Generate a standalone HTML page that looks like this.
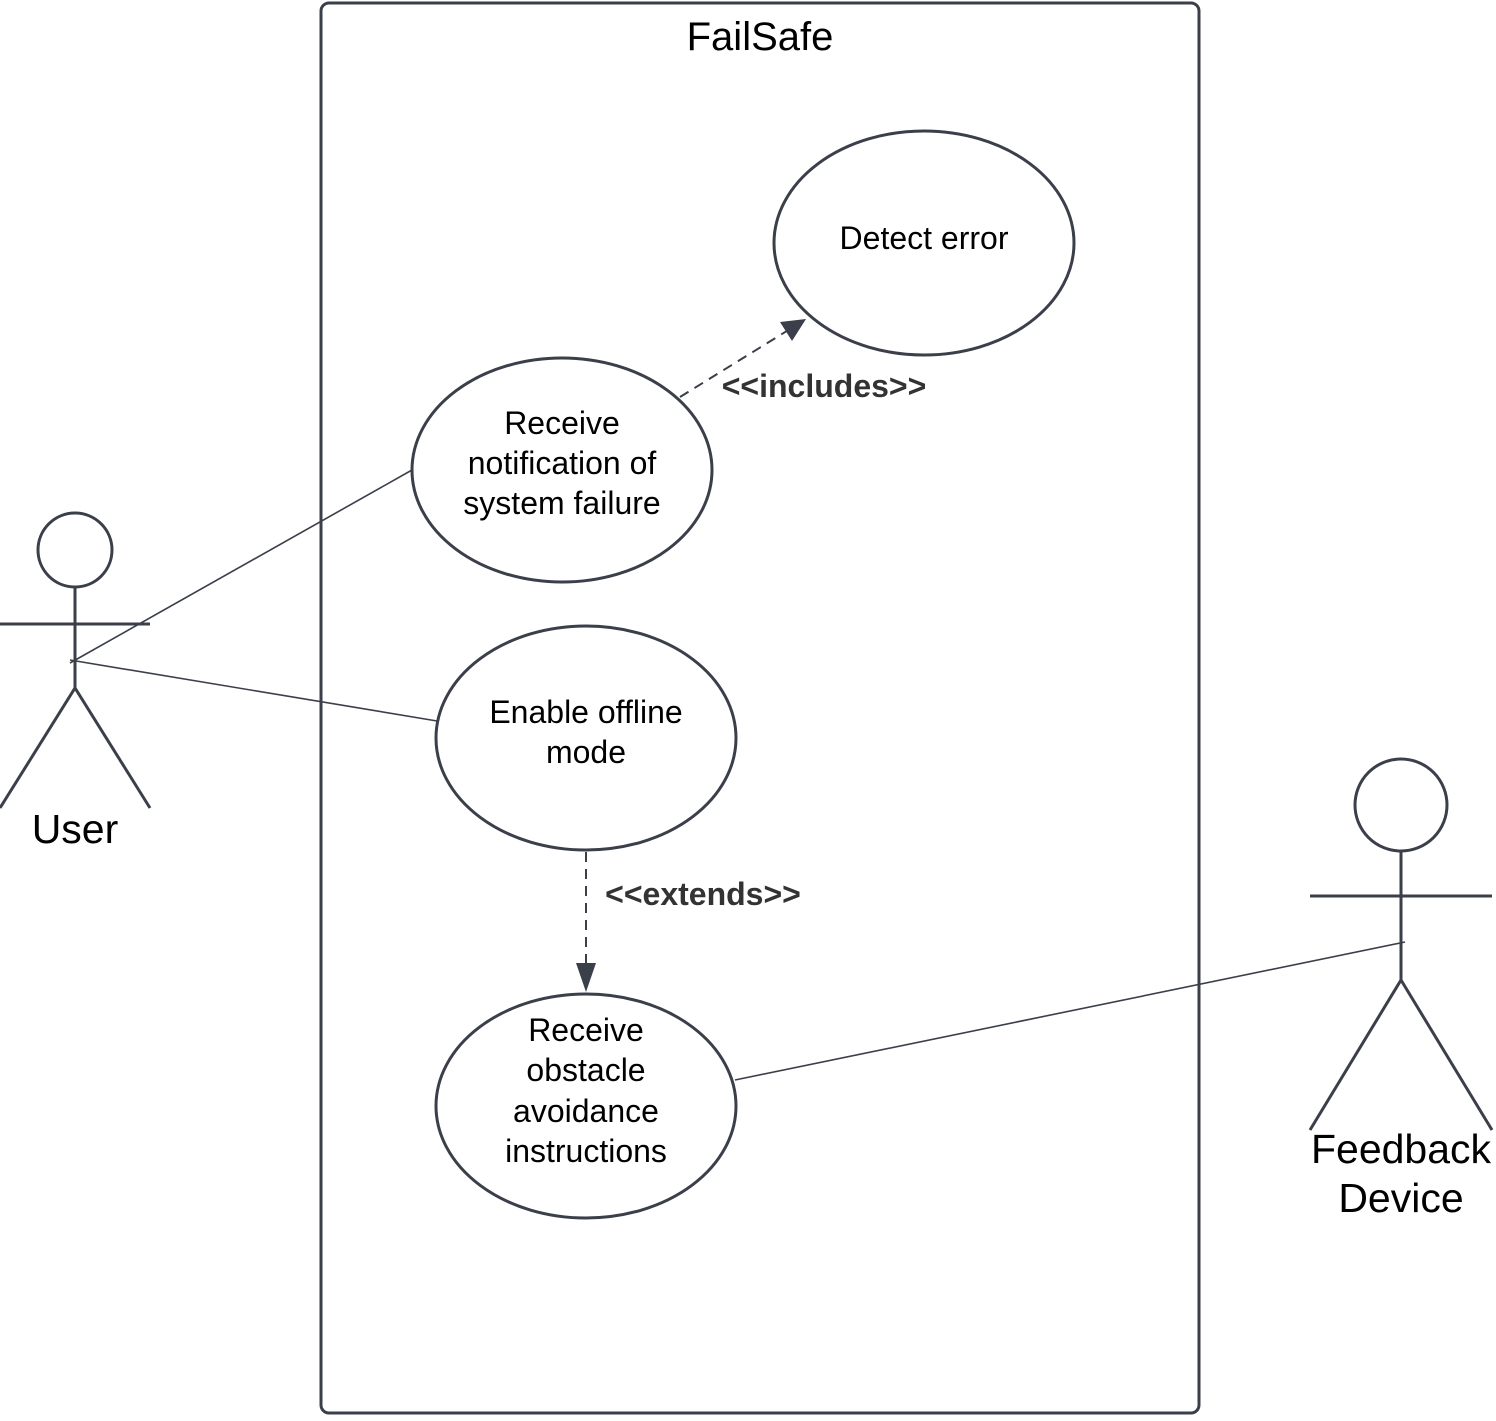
<!DOCTYPE html>
<html><head><style>html,body{margin:0;padding:0;background:#fff}</style></head><body>
<svg width="1496" height="1416" viewBox="0 0 1496 1416" xmlns="http://www.w3.org/2000/svg" font-family="Liberation Sans, Arial, sans-serif">
<rect x="321" y="3" width="878" height="1410" rx="8" fill="none" stroke="#3a3f4a" stroke-width="3"/>
<text x="760" y="50" font-size="40" text-anchor="middle" fill="#000">FailSafe</text>
<g fill="none" stroke="#3a3f4a" stroke-width="3">
<ellipse cx="924" cy="243" rx="150" ry="112"/>
<ellipse cx="562" cy="470" rx="150" ry="112"/>
<ellipse cx="586" cy="738" rx="150" ry="112"/>
<ellipse cx="586" cy="1106" rx="150" ry="112"/>
<circle cx="75" cy="550" r="37"/>
<line x1="75" y1="587" x2="75" y2="688"/>
<line x1="0" y1="624" x2="150" y2="624"/>
<polyline points="0,808 75,688 150,808"/>
<circle cx="1401" cy="805" r="46"/>
<line x1="1401" y1="851" x2="1401" y2="980"/>
<line x1="1310" y1="896" x2="1492" y2="896"/>
<polyline points="1310,1130 1401,980 1492,1130"/>
</g>
<g stroke="#3a3f4a" stroke-width="1.6" fill="none">
<line x1="70" y1="663" x2="412" y2="470"/>
<line x1="70" y1="660" x2="437" y2="721"/>
<line x1="735" y1="1080" x2="1405" y2="942"/>
</g>
<g stroke="#3a3f4a" stroke-width="2" stroke-dasharray="10,7" fill="none">
<line x1="680" y1="397" x2="790" y2="329"/>
<line x1="586" y1="852" x2="586" y2="965"/>
</g>
<polygon points="806,319 780,322 792,341" fill="#3a3f4a"/>
<polygon points="586,992 576,963 596,963" fill="#3a3f4a"/>
<g font-size="32" text-anchor="middle" fill="#000">
<text x="924" y="249">Detect error</text>
<text x="562" y="434">Receive</text>
<text x="562" y="474">notification of</text>
<text x="562" y="514">system failure</text>
<text x="586" y="723">Enable offline</text>
<text x="586" y="763">mode</text>
<text x="586" y="1041">Receive</text>
<text x="586" y="1081">obstacle</text>
<text x="586" y="1122">avoidance</text>
<text x="586" y="1162">instructions</text>
</g>
<g font-size="32" font-weight="bold" fill="#333" text-anchor="middle">
<text x="824" y="397">&lt;&lt;includes&gt;&gt;</text>
<text x="703" y="905">&lt;&lt;extends&gt;&gt;</text>
</g>
<g font-size="41" text-anchor="middle" fill="#000">
<text x="75" y="843">User</text>
<text x="1401" y="1163">Feedback</text>
<text x="1401" y="1212">Device</text>
</g>
</svg>
</body></html>
